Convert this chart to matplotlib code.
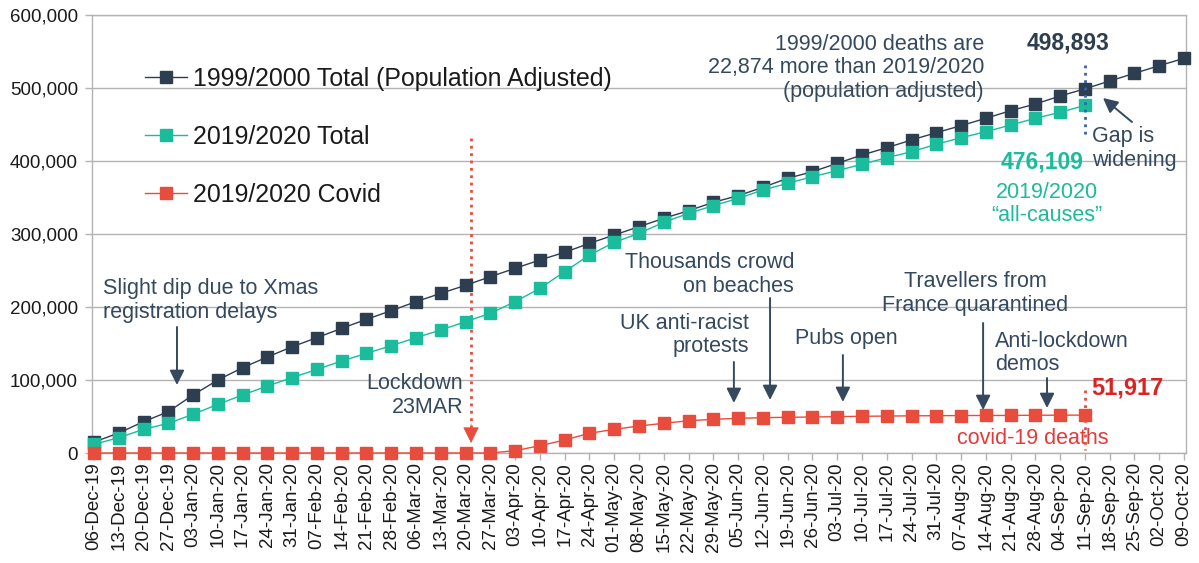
import matplotlib
matplotlib.use('Agg')
import matplotlib.pyplot as plt
from matplotlib.ticker import FuncFormatter

plt.rcParams['font.family'] = ['Liberation Sans', 'DejaVu Sans']

# ---- data ----
weeks = [
    '06-Dec-19', '13-Dec-19', '20-Dec-19', '27-Dec-19', '03-Jan-20', '10-Jan-20',
    '17-Jan-20', '24-Jan-20', '31-Jan-20', '07-Feb-20', '14-Feb-20', '21-Feb-20',
    '28-Feb-20', '06-Mar-20', '13-Mar-20', '20-Mar-20', '27-Mar-20', '03-Apr-20',
    '10-Apr-20', '17-Apr-20', '24-Apr-20', '01-May-20', '08-May-20', '15-May-20',
    '22-May-20', '29-May-20', '05-Jun-20', '12-Jun-20', '19-Jun-20', '26-Jun-20',
    '03-Jul-20', '10-Jul-20', '17-Jul-20', '24-Jul-20', '31-Jul-20', '07-Aug-20',
    '14-Aug-20', '21-Aug-20', '28-Aug-20', '04-Sep-20', '11-Sep-20', '18-Sep-20',
    '25-Sep-20', '02-Oct-20', '09-Oct-20',
]

total_1999 = [
    15000, 27400, 42900, 56600, 79500, 100000, 116900, 131500, 145600, 158000,
    170800, 183100, 195000, 207300, 218700, 229700, 241500, 253000, 264400, 274900,
    287200, 298600, 310000, 321500, 331900, 343400, 352500, 363900, 376300, 385300,
    396800, 408200, 418200, 428800, 438800, 448400, 458500, 468900, 478100, 489000,
    498893, 509600, 520100, 530600, 540600,
]

total_2020 = [
    11900, 21000, 32400, 40700, 53000, 66700, 79500, 91800, 103200, 114600,
    126000, 136500, 147000, 158000, 168500, 179900, 191400, 207300, 225600, 248400,
    271200, 288500, 300900, 316000, 328300, 338800, 348800, 360300, 369400, 378500,
    386800, 395500, 404500, 412700, 422900, 431900, 440100, 449300, 458500, 466700,
    476109,
]

covid_2020 = [
    0, 0, 0, 0, 0, 0, 0, 0, 0, 0, 0, 0, 0, 0, 0, 0, 0,
    3200, 10000, 17800, 27000, 32400, 37000, 40700, 44200, 46100, 47500, 48400,
    48900, 49300, 49800, 50300, 50600, 50900, 51100, 51300, 51400, 51500, 51700,
    51800, 51917,
]

# ---- colours ----
C_1999 = '#2c3e50'
C_2020 = '#1abc9c'
C_COVID = '#e74c3c'
C_NOTE = '#34495e'
C_GRID = '#b3b3b3'

fig = plt.figure(figsize=(11.99, 5.63), dpi=100)
ax = fig.add_axes([92 / 1199, 1 - 453 / 563, (1186 - 92) / 1199, (453 - 15) / 563])

x_all = list(range(len(weeks)))
mk = dict(marker='s', markersize=8, linewidth=1.0, clip_on=False, zorder=3)
ax.plot(x_all, total_1999, color=C_1999, label='1999/2000 Total (Population Adjusted)', **mk)
ax.plot(x_all[:len(total_2020)], total_2020, color=C_2020, label='2019/2020 Total', **mk)
ax.plot(x_all[:len(covid_2020)], covid_2020, color=C_COVID, label='2019/2020 Covid', **mk)

ax.set_xlim(-0.08, len(weeks) - 1 + 0.08)
ax.set_ylim(0, 600000)
ax.set_yticks(range(0, 600001, 100000))
ax.yaxis.set_major_formatter(FuncFormatter(lambda v, p: f'{int(v):,}'))
ax.set_xticks(x_all)
ax.set_xticklabels(weeks, rotation=90)
ax.tick_params(axis='both', colors=C_GRID, labelcolor='#1a1a1a', labelsize=13.5,
               length=5, width=1)
ax.tick_params(axis='x', pad=1.5)
ax.tick_params(axis='y', pad=5)
ax.grid(axis='y', color=C_GRID, linewidth=1)
ax.set_axisbelow(True)
for s in ax.spines.values():
    s.set_color(C_GRID)
    s.set_linewidth(1)

leg = ax.legend(loc='upper left', bbox_to_anchor=(145 / 1199, 1 - 67 / 563),
                bbox_transform=fig.transFigure, frameon=False, fontsize=17.9,
                borderpad=0, borderaxespad=0, labelspacing=1.37,
                handlelength=1.7, handletextpad=0.25, markerscale=1.05)
for t in leg.get_texts():
    t.set_color('#1a1a1a')

# ---- annotations ----
NOTE_FS = 15.5
arrow = dict(arrowstyle='-|>', color=C_NOTE, lw=1.4, mutation_scale=22,
             shrinkA=0, shrinkB=0)


def note(text, x, y, ha, color=C_NOTE, **kw):
    ax.text(x, y, text, ha=ha, va='center', fontsize=kw.pop('fontsize', NOTE_FS),
            color=color, linespacing=1.15, **kw)


def down_arrow(x, y0, y1):
    ax.annotate('', xy=(x, y1), xytext=(x, y0), arrowprops=arrow)


note('Slight dip due to Xmas\nregistration delays', 0.36, 208900, 'left')
down_arrow(3.35, 172600, 93150)

note('Lockdown\n23MAR', 14.9, 78770, 'right')
ax.plot([15.22, 15.22], [431500, 30000], color=C_COVID, linestyle=':', linewidth=2.0)
ax.annotate('', xy=(15.22, 13700), xytext=(15.22, 40000),
            arrowprops=dict(arrowstyle='-|>', color=C_COVID, lw=0.5,
                            mutation_scale=26, shrinkA=0, shrinkB=0))

note('Thousands crowd\non beaches', 28.26, 244500, 'right')
down_arrow(27.29, 212300, 72600)

note('UK anti-racist\nprotests', 26.44, 161600, 'right')
down_arrow(25.83, 124700, 68500)

note('Pubs open', 28.30, 157500, 'left')
down_arrow(30.23, 134200, 69900)

note('Travellers from\nFrance quarantined', 35.56, 218500, 'center')
down_arrow(35.89, 178100, 58900)

note('Anti-lockdown\ndemos', 36.37, 137000, 'left')
down_arrow(38.47, 102700, 61600)

note('1999/2000 deaths are\n22,874 more than 2019/2020\n(population adjusted)',
     35.93, 527400, 'right', multialignment='right')

last = len(total_2020) - 1
note(f'{total_1999[last]:,}', 39.32, 561600, 'center', fontsize=16.5, fontweight='bold',
     color=C_1999)
ax.plot([last, last], [531500, 432900], color='#3465a4', linestyle=':', linewidth=2.0,
        zorder=4)

note('Gap is\nwidening', 40.29, 417100, 'left', multialignment='left')
ax.annotate('', xy=(40.73, 486300), xytext=(41.90, 453400), arrowprops=arrow)

note(f'{total_2020[last]:,}', 38.29, 398600, 'center', fontsize=16.5, fontweight='bold',
     color=C_2020)
note('2019/2020\n\u201call-causes\u201d', 38.47, 341100, 'center', color=C_2020)

note(f'{covid_2020[last]:,}', 40.25, 89000, 'left', fontsize=17, fontweight='bold',
     color='#dd2222')
ax.plot([last, last], [86300, 4100], color=C_COVID, linestyle=':', linewidth=2.0, zorder=4)
note('covid-19 deaths', 37.9, 20500, 'center', color='#e33b3b')

fig.savefig('out.png', dpi=100)
